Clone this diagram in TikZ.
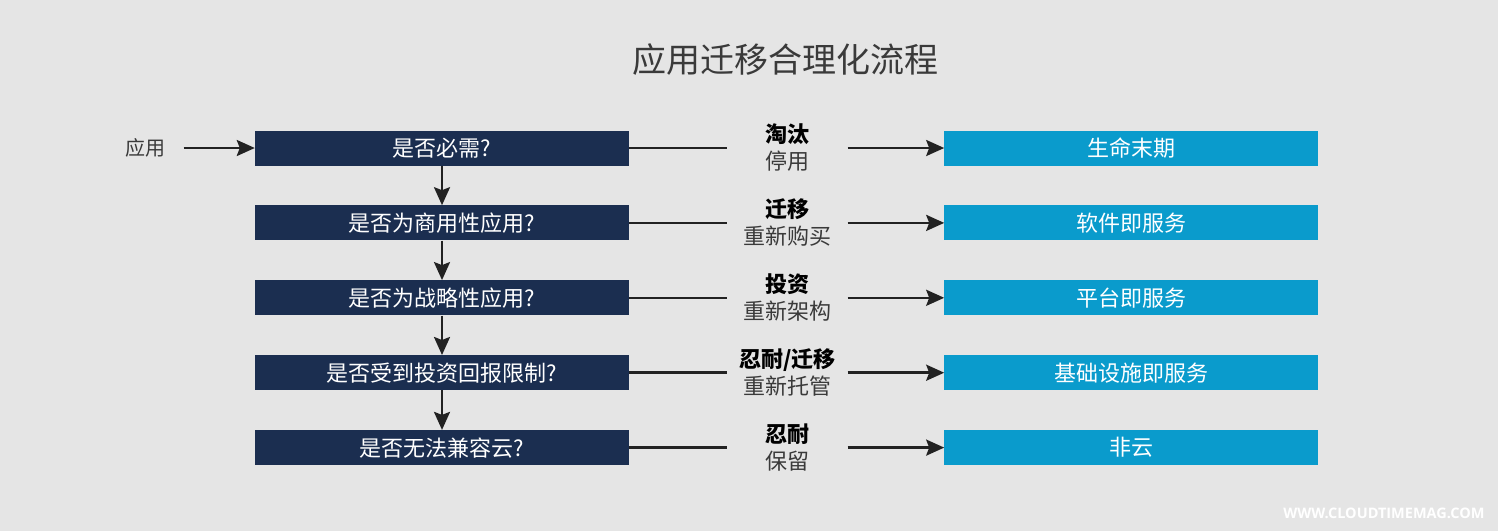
\documentclass[tikz,border=0pt]{standalone}
\usepackage{fontspec}
\setmainfont{Noto Sans CJK SC}
\newfontfamily\webfont{Open Sans}
\usetikzlibrary{arrows.meta,positioning}
\definecolor{bggray}{HTML}{E5E5E5}
\definecolor{navy}{HTML}{1B2E50}
\definecolor{cloudblue}{HTML}{0A9BCC}
\definecolor{txtgray}{HTML}{3A3A3A}
\definecolor{linegray}{HTML}{222222}

\begin{document}
\begin{tikzpicture}[x=1pt,y=-1pt,
   question/.style={fill=navy,text=white,minimum width=374pt,minimum height=35pt,
      inner sep=0pt,font=\fontsize{22}{22}\selectfont},
   outcome/.style={fill=cloudblue,text=white,minimum width=374pt,minimum height=35pt,
      inner sep=0pt,font=\fontsize{22}{22}\selectfont},
   choice/.style={align=center,minimum width=120pt,inner sep=0pt,
      font=\fontsize{22}{27}\selectfont},
   link/.style={line width=2.5pt,color=linegray},
   flow/.style={link,-{Stealth[length=18pt,width=16pt,inset=3pt]}}]

   % background and margins
   \fill[bggray] (0,0) rectangle (1498,531);

   \node[text=txtgray,font=\fontsize{34}{34}\selectfont] (title) at (785,60) {应用迁移合理化流程};
   \node[text=txtgray,font=\fontsize{20}{20}\selectfont] (app) at (145,148) {应用};

   % questions
   \node[question] (q1) at (442,148) {是否必需?};
   \node[question,below=39.5pt of q1] (q2) {是否为商用性应用?};
   \node[question,below=39.5pt of q2] (q3) {是否为战略性应用?};
   \node[question,below=39.5pt of q3] (q4) {是否受到投资回报限制?};
   \node[question,below=39.5pt of q4] (q5) {是否无法兼容云?};

   % choices
   \node[choice,right=98pt of q1] (m1) {{\bfseries\color{black}淘汰}\\{\color{txtgray}停用}};
   \node[choice,right=98pt of q2] (m2) {{\bfseries\color{black}迁移}\\{\color{txtgray}重新购买}};
   \node[choice,right=98pt of q3] (m3) {{\bfseries\color{black}投资}\\{\color{txtgray}重新架构}};
   \node[choice,right=98pt of q4] (m4) {{\bfseries\color{black}忍耐/迁移}\\{\color{txtgray}重新托管}};
   \node[choice,right=98pt of q5] (m5) {{\bfseries\color{black}忍耐}\\{\color{txtgray}保留}};

   % outcomes
   \node[outcome,right=315pt of q1] (r1) {生命末期};
   \node[outcome,right=315pt of q2] (r2) {软件即服务};
   \node[outcome,right=315pt of q3] (r3) {平台即服务};
   \node[outcome,right=315pt of q4] (r4) {基础设施即服务};
   \node[outcome,right=315pt of q5] (r5) {非云};

   \draw[flow,shorten <=15pt] (app) -- (q1);
   \draw[flow] (q1) -- (q2);
   \draw[flow] (q2) -- (q3);
   \draw[flow] (q3) -- (q4);
   \draw[flow] (q4) -- (q5);

   \draw[link] (q1.east) -- (q1 -| m1.west);
   \draw[link] (q2.east) -- (q2 -| m2.west);
   \draw[link] (q3.east) -- (q3 -| m3.west);
   \draw[link] (q4.east) -- (q4 -| m4.west);
   \draw[link] (q5.east) -- (q5 -| m5.west);

   \draw[flow] (r1 -| m1.east) -- (r1.west);
   \draw[flow] (r2 -| m2.east) -- (r2.west);
   \draw[flow] (r3 -| m3.east) -- (r3.west);
   \draw[flow] (r4 -| m4.east) -- (r4.west);
   \draw[flow] (r5 -| m5.east) -- (r5.west);

   \node[text=white,anchor=east,font=\webfont\bfseries\fontsize{14.5}{14.5}\selectfont] (web) at (1488,513) {WWW.CLOUDTIMEMAG.COM};

 \end{tikzpicture}
\end{document}
